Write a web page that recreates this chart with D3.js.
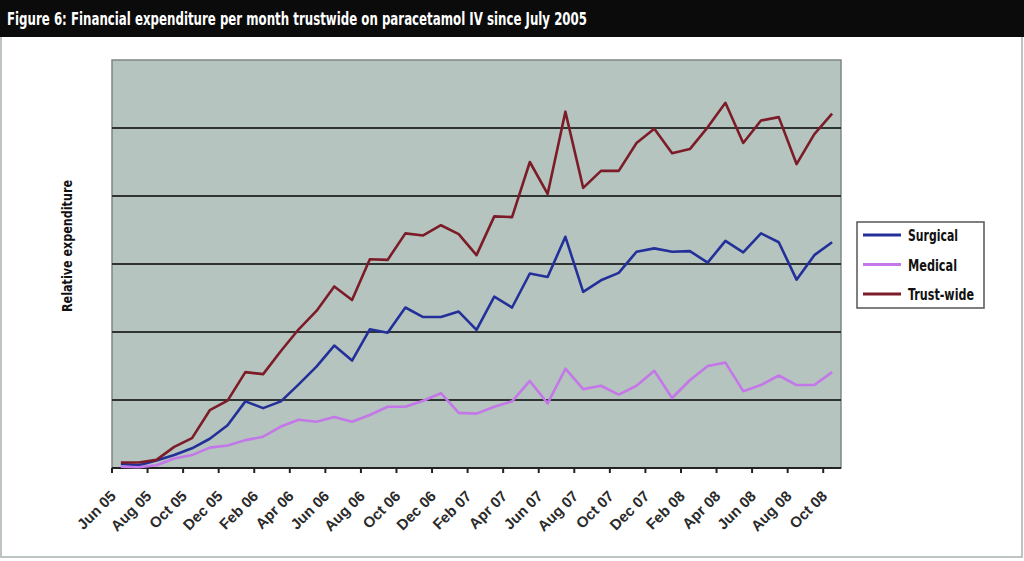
<!DOCTYPE html>
<html>
<head>
<meta charset="utf-8">
<script src="https://cdn.jsdelivr.net/npm/d3@7"></script>
<style>
  body { margin: 0; background: #fff; }
  svg { display: block; }
</style>
</head>
<body>
<svg id="chart" width="1024" height="561"></svg>
<script>
    // mois Jun 05 -> Oct 08
    let months = ["Jun 05","Jul 05","Aug 05","Sep 05","Oct 05","Nov 05","Dec 05","Jan 06","Feb 06","Mar 06",
                  "Apr 06","May 06","Jun 06","Jul 06","Aug 06","Sep 06","Oct 06","Nov 06","Dec 06","Jan 07",
                  "Feb 07","Mar 07","Apr 07","May 07","Jun 07","Jul 07","Aug 07","Sep 07","Oct 07","Nov 07",
                  "Dec 07","Jan 08","Feb 08","Mar 08","Apr 08","May 08","Jun 08","Jul 08","Aug 08","Sep 08","Oct 08"];

    let tickLabels = ["Jun 05","Aug 05","Oct 05","Dec 05","Feb 06","Apr 06","Jun 06","Aug 06","Oct 06","Dec 06",
                      "Feb 07","Apr 07","Jun 07","Aug 07","Oct 07","Dec 07","Feb 08","Apr 08","Jun 08","Aug 08","Oct 08"];

    let surgical = [0.06,0.04,0.11,0.19,0.29,0.43,0.63,0.98,0.88,0.98,
                    1.23,1.49,1.80,1.58,2.04,1.99,2.36,2.22,2.22,2.30,
                    2.03,2.52,2.36,2.86,2.81,3.40,2.59,2.76,2.87,3.18,
                    3.23,3.18,3.19,3.02,3.34,3.17,3.45,3.32,2.77,3.13,3.32];

    let medical = [0.02,0.01,0.04,0.14,0.19,0.30,0.33,0.41,0.46,0.61,
                   0.71,0.68,0.75,0.68,0.78,0.90,0.90,0.99,1.10,0.81,
                   0.80,0.90,0.98,1.28,0.95,1.46,1.16,1.21,1.08,1.21,
                   1.43,1.03,1.29,1.50,1.55,1.13,1.22,1.36,1.22,1.22,1.41];

    let trustwide = [0.08,0.08,0.12,0.31,0.44,0.85,0.99,1.41,1.38,1.72,
                     2.04,2.31,2.67,2.47,3.07,3.06,3.45,3.42,3.57,3.44,
                     3.13,3.70,3.69,4.50,4.03,5.24,4.12,4.37,4.37,4.78,
                     4.99,4.63,4.69,5.01,5.37,4.78,5.11,5.16,4.47,4.91,5.21];

    let gridValues = [1,2,3,4,5];

    let series = [
        {name: "Surgical", values: surgical, color: "#24309a", w: 50},
        {name: "Medical", values: medical, color: "#c477e8", w: 49},
        {name: "Trust-wide", values: trustwide, color: "#7c1c28", w: 66}
    ];

    let svg = d3.select('#chart'),
        plot = {left: 112, right: 841, top: 60, bottom: 468},
        font = "'DejaVu Sans', 'Liberation Sans', sans-serif";

    //cadre + bandeau titre
    svg.append('rect').attr('x',1).attr('y',1).attr('width',1021).attr('height',556)
        .attr('fill','#fff').attr('stroke','#a9b1ae').attr('stroke-width',1.5);
    svg.append('rect').attr('x',0).attr('y',0).attr('width',1024).attr('height',37).attr('fill','#0b0b0b');
    svg.append('text').attr('x',7).attr('y',25)
        .attr('fill','#fff').style('font-family',font).style('font-weight','bold').style('font-size','17px')
        .attr('textLength',580).attr('lengthAdjust','spacingAndGlyphs')
        .text("Figure 6: Financial expenditure per month trustwide on paracetamol IV since July 2005");

    let x = d3.scaleBand().domain(months).range([plot.left, plot.right]).padding(0),
        y = d3.scaleLinear().domain([0,6]).range([plot.bottom, plot.top]);

    svg.append('rect').attr('x',plot.left).attr('y',plot.top)
        .attr('width',plot.right-plot.left).attr('height',plot.bottom-plot.top)
        .attr('fill','#b5c4be').attr('stroke','#7d8783').attr('stroke-width',1.5);

    svg.append('g').selectAll('line').data(gridValues).join('line')
        .attr('x1',plot.left).attr('x2',plot.right)
        .attr('y1',d => y(d)).attr('y2',d => y(d))
        .attr('stroke','#2f3432').attr('stroke-width',2);

    //axe des x
    let xAxis = svg.append('g');
    xAxis.append('line').attr('x1',plot.left).attr('x2',plot.right)
        .attr('y1',plot.bottom).attr('y2',plot.bottom).attr('stroke','#222').attr('stroke-width',2);
    xAxis.selectAll('.tick').data(tickLabels).join('line')
        .attr('x1',d => x(d)).attr('x2',d => x(d))
        .attr('y1',plot.bottom).attr('y2',plot.bottom+5)
        .attr('stroke','#222').attr('stroke-width',2);
    xAxis.selectAll('text').data(tickLabels).join('text')
        .attr('transform',d => `translate(${x(d)+x.bandwidth()/2-4},${plot.bottom+29}) rotate(-45)`)
        .attr('text-anchor','end')
        .attr('fill','#2a2a2a').style('font-family',"'Liberation Sans', Arial, sans-serif")
        .style('font-weight','bold').style('font-size','15px')
        .text(d => d);

    //titre axe y
    svg.append('text').attr('transform','translate(72,246) rotate(-90)')
        .attr('text-anchor','middle').attr('fill','#111')
        .style('font-family',font).style('font-weight','bold').style('font-size','14px')
        .attr('textLength',132).attr('lengthAdjust','spacingAndGlyphs')
        .text('Relative expenditure');

    //courbes
    let line = d3.line()
        .x((d,i) => x(months[i]) + x.bandwidth()/2)
        .y(d => y(d));

    svg.append('g').selectAll('path').data(series).join('path')
        .attr('d',d => line(d.values))
        .attr('fill','none').attr('stroke',d => d.color)
        .attr('stroke-width',2.6).attr('stroke-linejoin','round');

    //légende
    let legend = svg.append('g').attr('transform','translate(857,222)');
    legend.append('rect').attr('width',127).attr('height',86)
        .attr('fill','#fff').attr('stroke','#555').attr('stroke-width',1.5);
    let items = legend.selectAll('g').data(series).join('g')
        .attr('transform',(d,i) => `translate(0,${13+i*29.5})`);
    items.append('line').attr('x1',6).attr('x2',44).attr('y1',0).attr('y2',0)
        .attr('stroke',d => d.color).attr('stroke-width',3);
    items.append('text').attr('x',51).attr('y',6)
        .attr('fill','#111').style('font-family',font).style('font-weight','bold').style('font-size','16px')
        .attr('textLength',d => d.w).attr('lengthAdjust','spacingAndGlyphs')
        .text(d => d.name);
</script>
</body>
</html>
